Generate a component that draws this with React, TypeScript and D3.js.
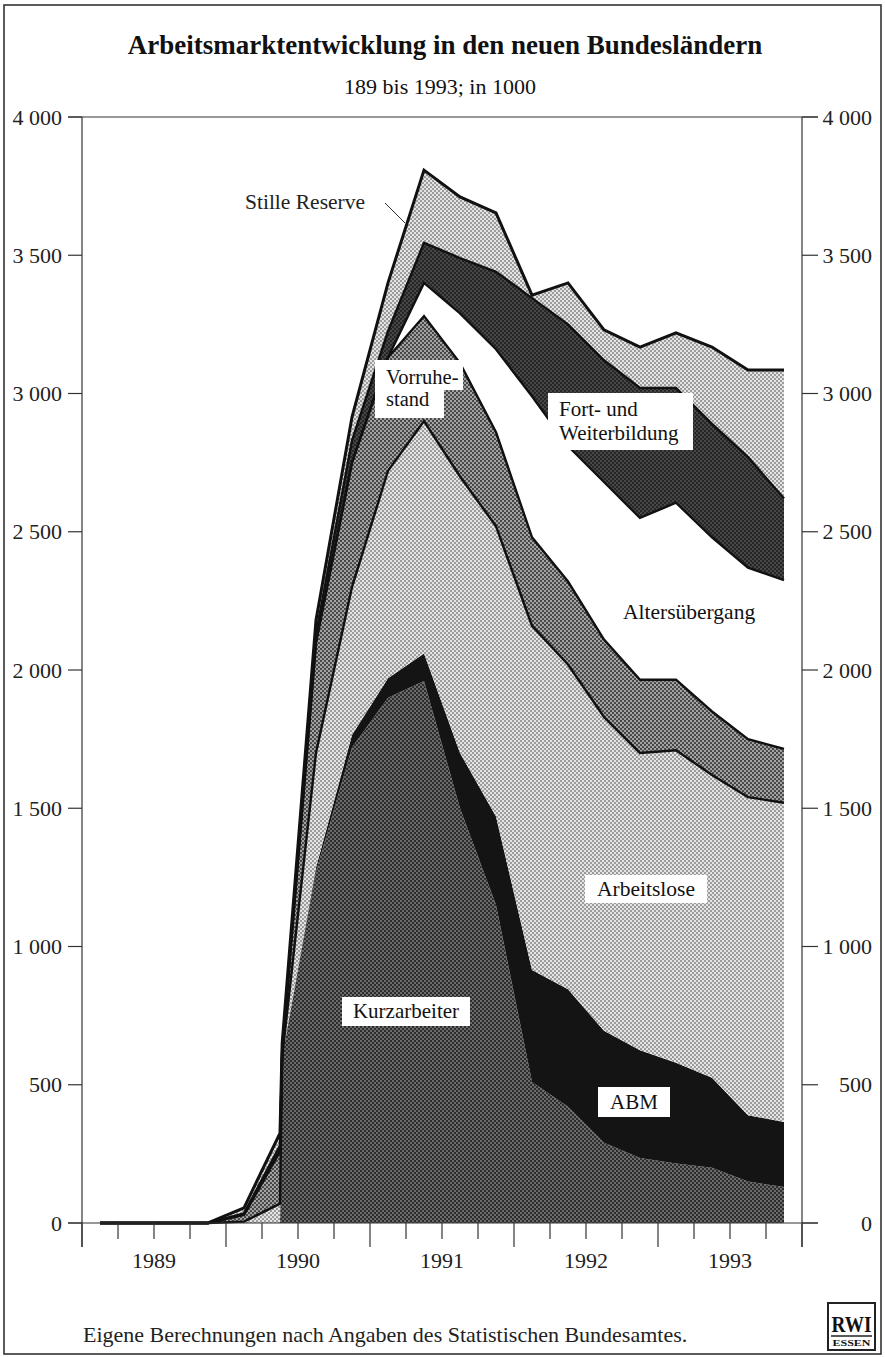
import * as d3 from "d3";

// quarter mid-points, 1989 Q1 .. 1993 Q4 (plus the start of short-time work in mid 1990)
const periods = [
  1989.125, 1989.375, 1989.625, 1989.875, 1990.125, 1990.375, 1990.39, 1990.625, 1990.875,
  1991.125, 1991.375, 1991.625, 1991.875, 1992.125, 1992.375, 1992.625, 1992.875,
  1993.125, 1993.375, 1993.625, 1993.875,
];

// in 1000
const kurzarbeiter = [0, 0, 0, 0, 0, 0, 600, 1270, 1720, 1900, 1960, 1500, 1150, 510, 420, 290, 235, 215, 200, 150, 130];
const abm = [0, 0, 0, 0, 0, 0, 0, 15, 45, 70, 100, 200, 320, 405, 425, 405, 390, 365, 325, 240, 235];
const arbeitslose = [0, 0, 0, 0, 5, 70, 0, 415, 535, 750, 840, 1000, 1050, 1245, 1175, 1135, 1075, 1130, 1095, 1150, 1155];
const vorruhestand = [0, 0, 0, 0, 25, 190, 20, 400, 450, 410, 380, 410, 340, 320, 300, 280, 265, 255, 230, 210, 195];
const altersuebergang = [0, 0, 0, 0, 0, 0, 0, 0, 0, 0, 120, 180, 300, 510, 490, 570, 585, 640, 630, 620, 610];
const weiterbildung = [0, 0, 0, 0, 5, 20, 10, 30, 80, 95, 145, 200, 280, 355, 440, 440, 470, 415, 410, 400, 295];
const stilleReserve = [0, 0, 0, 0, 20, 45, 20, 50, 85, 175, 263, 221, 213, 11, 150, 110, 148, 199, 278, 315, 465];

const years = [1989, 1990, 1991, 1992, 1993];
const quarterTicks = [
  1989, 1989.25, 1989.5, 1989.75, 1990, 1990.25, 1990.5, 1990.75, 1991, 1991.25, 1991.5, 1991.75,
  1992, 1992.25, 1992.5, 1992.75, 1993, 1993.25, 1993.5, 1993.75, 1994,
];
const yTicks = [0, 500, 1000, 1500, 2000, 2500, 3000, 3500, 4000];
const yTickLabels = ["0", "500", "1 000", "1 500", "2 000", "2 500", "3 000", "3 500", "4 000"];

const keys = ["kurz", "abm", "al", "vr", "au", "fw", "sr"];
const fills: Record<string, string> = {
  kurz: "url(#dotDark)",
  abm: "#141414",
  al: "url(#dotLight)",
  vr: "url(#dotMid)",
  au: "#ffffff",
  fw: "url(#dotDarker)",
  sr: "url(#dotLight)",
};
// which layer tops get a black outline
const outlined = ["al", "vr", "au", "fw", "sr"];

const FONT = "'Liberation Serif', 'Times New Roman', serif";

export default function App() {
  const x = d3.scaleLinear().domain([1989, 1994]).range([82, 802]);
  const y = d3.scaleLinear().domain([0, 4000]).range([1223, 117]);

  const rows = periods.map((p, i) => ({
    p,
    kurz: kurzarbeiter[i],
    abm: abm[i],
    al: arbeitslose[i],
    vr: vorruhestand[i],
    au: altersuebergang[i],
    fw: weiterbildung[i],
    sr: stilleReserve[i],
  }));
  const series = d3.stack<any>().keys(keys)(rows);

  const area = d3
    .area<any>()
    .x((d) => x(d.data.p))
    .y0((d) => y(d[0]))
    .y1((d) => y(d[1]));
  const topLine = d3
    .line<any>()
    .x((d) => x(d.data.p))
    .y((d) => y(d[1]));

  return (
    <div>
      <style>{`body{margin:0}`}</style>
      <svg width={885} height={1357} style={{ display: "block", background: "#fff" }} fontFamily={FONT}>
        <defs>
          <pattern id="dotLight" width="4" height="4" patternUnits="userSpaceOnUse">
            <rect width="4" height="4" fill="#e4e4e4" />
            <circle cx="1" cy="1" r="0.95" fill="#7c7c7c" />
            <circle cx="3" cy="3" r="0.95" fill="#7c7c7c" />
          </pattern>
          <pattern id="dotMid" width="4" height="4" patternUnits="userSpaceOnUse">
            <rect width="4" height="4" fill="#a4a4a4" />
            <circle cx="1" cy="1" r="1.1" fill="#3c3c3c" />
            <circle cx="3" cy="3" r="1.1" fill="#3c3c3c" />
          </pattern>
          <pattern id="dotDark" width="4" height="4" patternUnits="userSpaceOnUse">
            <rect width="4" height="4" fill="#2c2c2c" />
            <circle cx="1" cy="1" r="0.9" fill="#8a8a8a" />
            <circle cx="3" cy="3" r="0.9" fill="#8a8a8a" />
          </pattern>
          <pattern id="dotDarker" width="4" height="4" patternUnits="userSpaceOnUse">
            <rect width="4" height="4" fill="#262626" />
            <circle cx="1" cy="1" r="0.8" fill="#707070" />
            <circle cx="3" cy="3" r="0.8" fill="#707070" />
          </pattern>
        </defs>

        {/* outer frame */}
        <rect x={4} y={5} width={877} height={1349} fill="none" stroke="#333" strokeWidth={1.6} />

        <text x={445} y={54} textAnchor="middle" fontSize={27} fontWeight="bold" fill="#111">
          Arbeitsmarktentwicklung in den neuen Bundesländern
        </text>
        <text x={440} y={94} textAnchor="middle" fontSize={22} fill="#111">
          189 bis 1993; in 1000
        </text>

        {/* layers */}
        {series.map((s) => (
          <path key={s.key} d={area(s) || ""} fill={fills[s.key]} />
        ))}
        {series
          .filter((s) => outlined.includes(s.key))
          .map((s) => (
            <path
              key={"l" + s.key}
              d={topLine(s) || ""}
              fill="none"
              stroke="#111"
              strokeWidth={s.key === "sr" ? 3 : 2.4}
              strokeLinejoin="miter"
            />
          ))}

        {/* frame lines */}
        <line x1={68} x2={818} y1={y(4000)} y2={y(4000)} stroke="#333" strokeWidth={1.2} />
        <line x1={68} x2={818} y1={y(0)} y2={y(0)} stroke="#333" strokeWidth={1.2} />
        <line x1={x(1989)} x2={x(1989)} y1={y(4000)} y2={1247} stroke="#333" strokeWidth={1.2} />
        <line x1={x(1994)} x2={x(1994)} y1={y(4000)} y2={1247} stroke="#333" strokeWidth={1.2} />

        {yTicks.map((v, i) => (
          <g key={v}>
            <line x1={68} x2={82} y1={y(v)} y2={y(v)} stroke="#333" strokeWidth={1.2} />
            <line x1={802} x2={818} y1={y(v)} y2={y(v)} stroke="#333" strokeWidth={1.2} />
            <text x={62} y={y(v) + 7.5} textAnchor="end" fontSize={22} fill="#222">
              {yTickLabels[i]}
            </text>
            <text x={872} y={y(v) + 7.5} textAnchor="end" fontSize={22} fill="#222">
              {yTickLabels[i]}
            </text>
          </g>
        ))}

        {quarterTicks.map((q) => (
          <line
            key={q}
            x1={x(q)}
            x2={x(q)}
            y1={y(0)}
            y2={Number.isInteger(q) ? 1247 : 1239}
            stroke="#333"
            strokeWidth={1.2}
          />
        ))}
        {years.map((yr) => (
          <text key={yr} x={x(yr + 0.5)} y={1268} textAnchor="middle" fontSize={22} fill="#222">
            {yr}
          </text>
        ))}

        {/* labels */}
        <text x={365} y={209} textAnchor="end" fontSize={21.5} fill="#222">
          Stille Reserve
        </text>
        <line x1={385} y1={203} x2={405} y2={223} stroke="#333" strokeWidth={1} />

        <rect x={375} y={360} width={88} height={30} fill="#fff" />
        <rect x={375} y={360} width={69} height={58} fill="#fff" />
        <text x={386} y={384} fontSize={20.5} fill="#111">
          Vorruhe-
        </text>
        <text x={386} y={406} fontSize={20.5} fill="#111">
          stand
        </text>

        <rect x={548} y={393} width={145} height={57} fill="#fff" />
        <text x={559} y={416} fontSize={21} fill="#111">
          Fort- und
        </text>
        <text x={559} y={440} fontSize={21} fill="#111">
          Weiterbildung
        </text>

        <text x={623} y={619} fontSize={21.5} fill="#111">
          Altersübergang
        </text>

        <rect x={585} y={875} width={122} height={28} fill="#fff" />
        <text x={646} y={896} textAnchor="middle" fontSize={21.5} fill="#111">
          Arbeitslose
        </text>

        <rect x={342} y={997} width={128} height={29} fill="#fff" />
        <text x={406} y={1018} textAnchor="middle" fontSize={21} fill="#111">
          Kurzarbeiter
        </text>

        <rect x={598} y={1087} width={72} height={30} fill="#fff" />
        <text x={634} y={1109} textAnchor="middle" fontSize={21} fill="#111">
          ABM
        </text>

        <text x={83} y={1342} fontSize={22} fill="#222">
          Eigene Berechnungen nach Angaben des Statistischen Bundesamtes.
        </text>

        {/* RWI mark */}
        <rect x={828} y={1303} width={47} height={47} fill="#fff" stroke="#222" strokeWidth={2} />
        <text x={851.5} y={1332} textAnchor="middle" fontSize={24} fontWeight="bold" fill="#111" textLength={40} lengthAdjust="spacingAndGlyphs">
          RWI
        </text>
        <line x1={831} x2={872} y1={1336} y2={1336} stroke="#222" strokeWidth={1.5} />
        <text x={851.5} y={1346} textAnchor="middle" fontSize={8} fontWeight="bold" fill="#111" textLength={38} lengthAdjust="spacingAndGlyphs">
          ESSEN
        </text>
      </svg>
    </div>
  );
}
